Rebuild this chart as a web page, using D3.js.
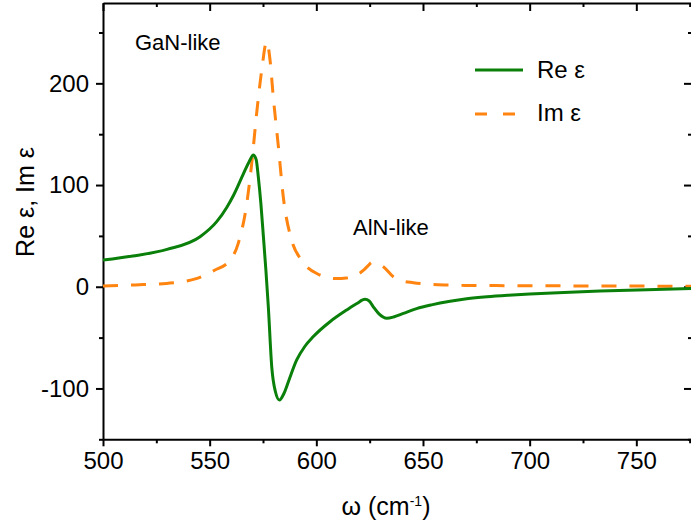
<!DOCTYPE html>
<html>
<head>
<meta charset="utf-8">
<style>
    body { margin: 0; background: #fff; }
    svg { display: block; font-family: 'Liberation Sans', Arial, sans-serif; }
    .axis .domain { stroke: #000; stroke-width: 2; }
    .axis .tick line { stroke: #000; stroke-width: 2; }
    .axis .tick text { font-size: 24px; fill: #000; }
    .minor .domain { display: none; }
    .minor .tick line { stroke: #000; stroke-width: 2; }
</style>
</head>
<body>
<svg width="691" height="524"></svg>
<script src="https://d3js.org/d3.v7.min.js"></script>
<script>
// wavenumber (cm^-1) and Re eps
let reX = [500, 514, 530, 545.5, 553.3, 558, 561.2, 565.8, 568.5, 570.5, 571.8, 572.8, 574, 575.2, 576.4, 577.5, 579.1, 580.8,
           582.7, 584.8, 586.9, 590.8, 594.5, 598.6, 606.4, 614.2, 619, 622.8, 624.8, 626.7, 629.5, 633, 636.5, 640.8, 647,
           654, 662.7, 670.5, 680, 690, 700, 716, 733, 755, 776];
let reY = [26.2, 30.2, 36.8, 49.2, 64, 78, 90, 111, 123, 129.5, 125, 108, 82, 49, 15, -19.7, -78.7, -103,
           -111.4, -105, -93.4, -72, -59, -49, -34.4, -22.9, -16.5, -12.4, -14, -19.7, -27, -31, -29.5, -26.2, -21.5,
           -17.8, -14.3, -11.9, -9.9, -8.4, -7.2, -5.6, -4.3, -2.9, -1.8];

// Im eps
let imX = [500, 515, 529.8, 543.7, 552.1, 559.5, 563.4, 567.4, 569.7, 572, 574.4, 576.7, 578.3, 579.8, 582.2, 584.5,
           588.4, 593.1, 600.2, 609.5, 614, 618.9, 622, 624.4, 626, 628, 631.4, 636.1, 640, 645.5, 652, 661.1, 670,
           700, 740, 776];
let imY = [0.7, 1.8, 3.3, 8, 16, 26, 42.7, 82, 121, 170, 213, 241, 223, 187, 138, 88.5,
           46, 26, 13, 8, 8.5, 11.5, 16, 21, 24, 23, 19.7, 9.8, 6, 4, 2.6, 1.7, 1.3,
           1, 0.7, 0.5];

let xMajor = [500, 550, 600, 650, 700, 750];
let xMinor = [525, 575, 625, 675, 725, 775];
let yMajor = [-100, 0, 100, 200];
let yMinor = [-150, -50, 50, 150, 250];

let svg = d3.select("svg");
let pLeft = 103, pRight = 692, pTop = 3, pBottom = 439.3;

let x = d3.scaleLinear().domain([500, 776.1]).range([pLeft, pRight]);
let y = d3.scaleLinear().domain([-150, 279]).range([pBottom, pTop]);

let plain = d => String(d);   // keeps the ASCII hyphen of the original

// major axes with labels
svg.append("g").attr("class", "axis")
    .attr("transform", `translate(0,${pBottom})`)
    .call(d3.axisBottom(x).tickValues(xMajor).tickSize(7).tickSizeOuter(0).tickPadding(6).tickFormat(plain));
svg.append("g").attr("class", "axis")
    .attr("transform", `translate(${pLeft},0)`)
    .call(d3.axisLeft(y).tickValues(yMajor).tickSize(7).tickSizeOuter(0).tickPadding(7).tickFormat(plain));

// minor ticks, outward
svg.append("g").attr("class", "minor")
    .attr("transform", `translate(0,${pBottom})`)
    .call(d3.axisBottom(x).tickValues(xMinor).tickSize(4).tickSizeOuter(0).tickFormat(""));
svg.append("g").attr("class", "minor")
    .attr("transform", `translate(${pLeft},0)`)
    .call(d3.axisLeft(y).tickValues(yMinor).tickSize(4).tickSizeOuter(0).tickFormat(""));

// top and right frame with inward ticks
svg.append("g").attr("class", "axis")
    .attr("transform", `translate(0,${pTop})`)
    .call(d3.axisTop(x).tickValues(xMajor).tickSize(-8).tickSizeOuter(0).tickFormat(""));
svg.append("g").attr("class", "minor")
    .attr("transform", `translate(0,${pTop})`)
    .call(d3.axisTop(x).tickValues(xMinor).tickSize(-4).tickSizeOuter(0).tickFormat(""));
svg.append("g").attr("class", "axis")
    .attr("transform", `translate(${pRight},0)`)
    .call(d3.axisRight(y).tickValues(yMajor).tickSize(-8).tickSizeOuter(0).tickFormat(""));
svg.append("g").attr("class", "minor")
    .attr("transform", `translate(${pRight},0)`)
    .call(d3.axisRight(y).tickValues(yMinor).tickSize(-4).tickSizeOuter(0).tickFormat(""));

let line = d3.line().curve(d3.curveMonotoneX);

svg.append("path")
    .attr("d", line(imX.map((v, i) => [x(v), y(imY[i])])))
    .attr("fill", "none")
    .attr("stroke", "#ff8410")
    .attr("stroke-width", 3)
    .attr("stroke-dasharray", "15,13");

svg.append("path")
    .attr("d", line(reX.map((v, i) => [x(v), y(reY[i])])))
    .attr("fill", "none")
    .attr("stroke", "#0a800a")
    .attr("stroke-width", 3);

// legend
svg.append("line").attr("x1", 475).attr("x2", 523).attr("y1", 70).attr("y2", 70)
    .attr("stroke", "#0a800a").attr("stroke-width", 3);
svg.append("line").attr("x1", 475).attr("x2", 516).attr("y1", 114).attr("y2", 114)
    .attr("stroke", "#ff8410").attr("stroke-width", 3).attr("stroke-dasharray", "12,16");
svg.append("text").attr("x", 537).attr("y", 78).style("font-size", "24px").text("Re ε");
svg.append("text").attr("x", 537).attr("y", 121).style("font-size", "24px").text("Im ε");

// annotations
svg.append("text").attr("x", 135).attr("y", 50).style("font-size", "22px").text("GaN-like");
svg.append("text").attr("x", 353).attr("y", 235).style("font-size", "22px").text("AlN-like");

// axis titles
let xt = svg.append("text").attr("x", 386).attr("y", 515).attr("text-anchor", "middle").style("font-size", "25px");
xt.append("tspan").text("ω (cm");
xt.append("tspan").attr("dy", -9).style("font-size", "14px").text("-1");
xt.append("tspan").attr("dy", 9).text(")");

svg.append("text")
    .attr("transform", "translate(34,202) rotate(-90)")
    .attr("text-anchor", "middle")
    .style("font-size", "25px")
    .text("Re ε, Im ε");
</script>
</body>
</html>
